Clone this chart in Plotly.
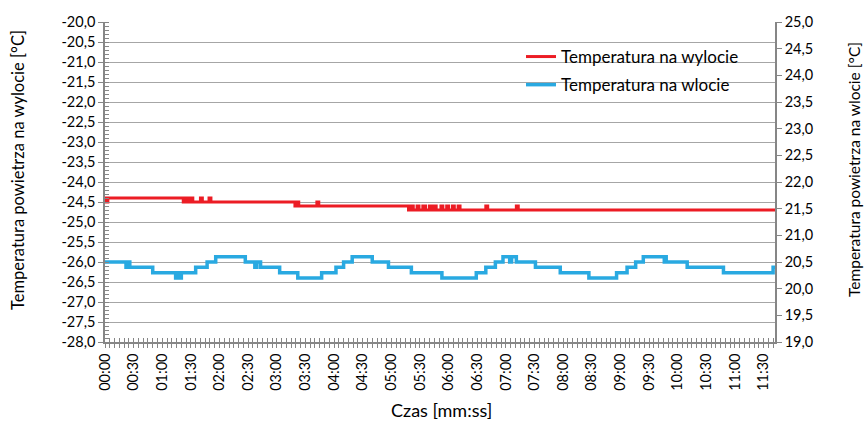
import plotly.graph_objects as go

# ---- data (time in seconds, values in degC) ----
outlet_time = [0, 1, 3, 82, 83, 84, 86, 88, 90, 92, 100, 102, 109, 111,
               199, 201, 203, 222, 224, 318, 321, 323, 327, 329, 333, 336,
               340, 342, 345, 347, 352, 354, 358, 360, 364, 366, 370, 372,
               399, 401, 431, 433, 702]
outlet_temp = [-24.4, -24.5, -24.4, -24.5, -24.4, -24.5, -24.4, -24.5, -24.4, -24.5, -24.4, -24.5, -24.4, -24.5,
               -24.6, -24.5, -24.6, -24.5, -24.6, -24.7, -24.6, -24.7, -24.6, -24.7, -24.6, -24.7,
               -24.6, -24.7, -24.6, -24.7, -24.6, -24.7, -24.6, -24.7, -24.6, -24.7, -24.6, -24.7,
               -24.6, -24.7, -24.6, -24.7, -24.7]

inlet_time = [0, 22, 24, 26, 50, 74, 76, 78, 80, 95, 107, 116, 147, 157, 159, 163,
              183, 202, 227, 242, 250, 259, 280, 297, 321, 353, 389, 399, 409,
              417, 424, 426, 431, 451, 477, 507, 536, 547, 556, 564, 586, 587,
              588, 610, 648, 700, 702]
inlet_temp = [20.5, 20.4, 20.5, 20.4, 20.3, 20.2, 20.3, 20.2, 20.3, 20.4, 20.5, 20.6, 20.5, 20.4, 20.5, 20.4,
              20.3, 20.2, 20.3, 20.4, 20.5, 20.6, 20.5, 20.4, 20.3, 20.2, 20.3, 20.4, 20.5,
              20.6, 20.5, 20.6, 20.5, 20.4, 20.3, 20.2, 20.3, 20.4, 20.5, 20.6, 20.5, 20.6,
              20.5, 20.4, 20.3, 20.4, 20.4]

x_tick_seconds = [0, 30, 60, 90, 120, 150, 180, 210, 240, 270, 300, 330, 360, 390,
                  420, 450, 480, 510, 540, 570, 600, 630, 660, 690]
x_tick_labels = ["00:00", "00:30", "01:00", "01:30", "02:00", "02:30", "03:00", "03:30",
                 "04:00", "04:30", "05:00", "05:30", "06:00", "06:30", "07:00", "07:30",
                 "08:00", "08:30", "09:00", "09:30", "10:00", "10:30", "11:00", "11:30"]

left_tick_vals = [-28.0, -27.5, -27.0, -26.5, -26.0, -25.5, -25.0, -24.5, -24.0,
                  -23.5, -23.0, -22.5, -22.0, -21.5, -21.0, -20.5, -20.0]
left_tick_text = ["-28,0", "-27,5", "-27,0", "-26,5", "-26,0", "-25,5", "-25,0", "-24,5", "-24,0",
                  "-23,5", "-23,0", "-22,5", "-22,0", "-21,5", "-21,0", "-20,5", "-20,0"]
right_tick_vals = [19.0, 19.5, 20.0, 20.5, 21.0, 21.5, 22.0, 22.5, 23.0, 23.5, 24.0, 24.5, 25.0]
right_tick_text = ["19,0", "19,5", "20,0", "20,5", "21,0", "21,5", "22,0", "22,5",
                   "23,0", "23,5", "24,0", "24,5", "25,0"]

series_names = ["Temperatura na wylocie", "Temperatura na wlocie"]
x_title = "Czas [mm:ss]"
left_title = "Temperatura powietrza na wylocie [°C]"
right_title = "Temperatura powietrza na wlocie [°C]"

RED = "#EC1C24"
BLUE = "#29A9E1"
GRID = "#A6A6A6"
AXIS = "#868686"
FONT = "Lato"

fig = go.Figure()
fig.add_trace(go.Scatter(x=outlet_time, y=outlet_temp, mode="lines", line_shape="hv",
                         line=dict(color=RED, width=3), name=series_names[0],
                         legendgroup="a", xaxis="x", yaxis="y"))
fig.add_trace(go.Scatter(x=inlet_time, y=inlet_temp, mode="lines", line_shape="hv",
                         line=dict(color=BLUE, width=3.5), name=series_names[1],
                         legendgroup="b", xaxis="x", yaxis="y2"))
# helper trace for the inner half of the cross tick marks
fig.add_trace(go.Scatter(x=[0], y=[None], mode="lines", showlegend=False,
                         hoverinfo="skip", xaxis="x2", yaxis="y"))

W, H = 864, 423
X0, X1 = 105, 775
Y0, Y1 = 22, 342

def px(xp):  # reference pixel x -> paper
    return (xp - X0) / (X1 - X0)

def py(yp):  # reference pixel y -> paper
    return (Y1 - yp) / (Y1 - Y0)

xr = [0, 702]
fig.update_layout(
    width=W, height=H,
    margin=dict(l=X0, r=W - X1, t=Y0, b=H - Y1, autoexpand=False),
    paper_bgcolor="white", plot_bgcolor="white",
    font=dict(family=FONT, size=14.5, color="#000000"),
    showlegend=True,
    legend=dict(x=px(521), y=py(39), xanchor="left", yanchor="top",
                bgcolor="rgba(0,0,0,0)", borderwidth=0,
                font=dict(family=FONT, size=17, color="#000000"),
                tracegroupgap=3, traceorder="grouped"),
    xaxis=dict(range=xr, tickmode="array", tickvals=x_tick_seconds, ticktext=x_tick_labels,
               tickangle=-90, showgrid=False, zeroline=False, showline=True,
               linecolor=AXIS, linewidth=1.5, ticks="outside", ticklen=4,
               tickcolor=AXIS, tickwidth=1,
               minor=dict(ticks="outside", dtick=5, tick0=0, ticklen=4,
                          tickcolor=AXIS, tickwidth=1, showgrid=False),
               tickfont=dict(size=14.5), anchor="y"),
    xaxis2=dict(range=xr, overlaying="x", anchor="y", side="bottom",
                showticklabels=False, showgrid=False, zeroline=False, showline=False,
                tickmode="array", tickvals=x_tick_seconds, ticks="inside", ticklen=4,
                tickcolor=AXIS, tickwidth=1,
                minor=dict(ticks="inside", dtick=5, tick0=0, ticklen=4,
                           tickcolor=AXIS, tickwidth=1, showgrid=False)),
    yaxis=dict(range=[-28, -20], tickmode="array", tickvals=left_tick_vals, ticktext=left_tick_text,
               showgrid=True, gridcolor=GRID, gridwidth=1.3, zeroline=False,
               showline=True, linecolor=AXIS, linewidth=1.5,
               ticks="outside", ticklen=5, tickcolor=AXIS, tickwidth=1,
               minor=dict(ticks="inside", dtick=0.1, tick0=-28, ticklen=4,
                          tickcolor=AXIS, tickwidth=1, showgrid=False),
               tickfont=dict(size=14.5), anchor="x"),
    yaxis2=dict(range=[19, 25], overlaying="y", side="right", anchor="x",
                tickmode="array", tickvals=right_tick_vals, ticktext=right_tick_text,
                showgrid=False, zeroline=False, showline=True, linecolor=AXIS, linewidth=1.5,
                ticks="outside", ticklen=5, tickcolor=AXIS, tickwidth=1,
                tickfont=dict(size=14.5)),
    shapes=[dict(type="rect", xref="paper", yref="paper", layer="between",
                 x0=px(503), x1=px(773), y0=py(100), y1=py(44),
                 fillcolor="white", line=dict(width=0))],
    annotations=[
        dict(text=left_title, xref="paper", yref="paper", x=px(18), y=py(170),
             xanchor="center", yanchor="middle", textangle=-90, showarrow=False,
             font=dict(family=FONT, size=16.5)),
        dict(text=right_title, xref="paper", yref="paper", x=px(854), y=py(170),
             xanchor="center", yanchor="middle", textangle=-90, showarrow=False,
             font=dict(family=FONT, size=15.5)),
        dict(text=x_title, xref="paper", yref="paper", x=px(441), y=py(410),
             xanchor="center", yanchor="middle", showarrow=False,
             font=dict(family=FONT, size=18)),
    ],
)

fig.write_html(
    "out.html",
    config={"displayModeBar": False},
    post_script="document.body.style.margin='0';document.body.style.overflow='hidden';",
)
